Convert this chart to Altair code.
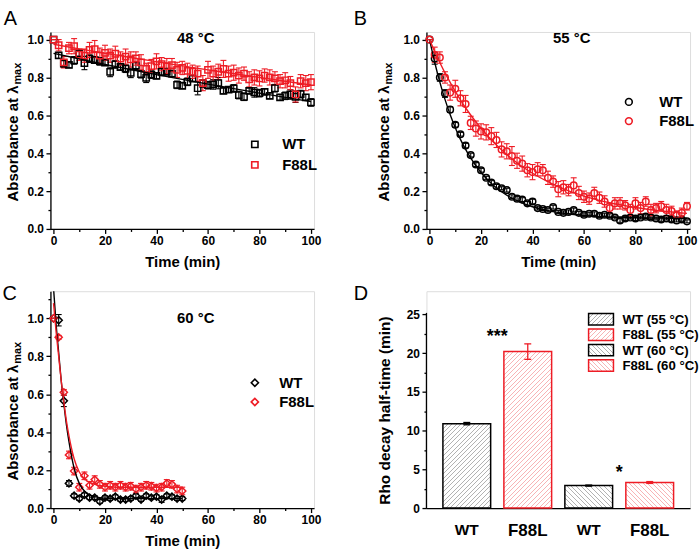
import altair as alt
import pandas as pd

FONT = "Liberation Sans"
BLACK = "#000000"
RED = "#ee1c25"

# ---------------- data ----------------
SERIES = ["WT", "F88L"]
TIME_AB = list(range(0, 101, 2))
TIME_C = list(range(0, 51, 2))

# 48 °C
A_WT = [1.000, 0.916, 0.873, 0.866, 0.890, 0.927, 0.876, 0.899, 0.892, 0.885,
        0.878, 0.829, 0.869, 0.855, 0.846, 0.824, 0.862, 0.817, 0.798, 0.815,
        0.808, 0.829, 0.830, 0.820, 0.761, 0.756, 0.777, 0.794, 0.743, 0.768,
        0.759, 0.763, 0.770, 0.729, 0.736, 0.742, 0.707, 0.698, 0.729, 0.721,
        0.717, 0.724, 0.703, 0.743, 0.695, 0.703, 0.710, 0.698, 0.712, 0.695,
        0.668]
A_WT_ERR = [0.0, 0.015, 0.02, 0.015, 0.02, 0.015, 0.035, 0.02, 0.015, 0.02,
            0.015, 0.025, 0.02, 0.015, 0.02, 0.025, 0.02, 0.02, 0.025, 0.02,
            0.015, 0.02, 0.015, 0.015, 0.02, 0.015, 0.02, 0.015, 0.035, 0.02,
            0.02, 0.025, 0.03, 0.015, 0.015, 0.02, 0.02, 0.02, 0.015, 0.025,
            0.02, 0.015, 0.015, 0.02, 0.015, 0.02, 0.025, 0.03, 0.02, 0.015,
            0.02]
A_F88L = [1.000, 0.970, 0.880, 0.955, 0.965, 0.920, 0.915, 0.945, 0.950, 0.915,
          0.930, 0.915, 0.925, 0.900, 0.910, 0.895, 0.900, 0.880, 0.845, 0.860,
          0.885, 0.870, 0.860, 0.865, 0.840, 0.850, 0.835, 0.830, 0.820, 0.770,
          0.840, 0.820, 0.830, 0.845, 0.820, 0.825, 0.810, 0.820, 0.790, 0.800,
          0.795, 0.810, 0.800, 0.795, 0.780, 0.785, 0.770, 0.710, 0.780, 0.770,
          0.775]
A_F88L_ERR = [0.0, 0.03, 0.03, 0.03, 0.04, 0.03, 0.035, 0.04, 0.045, 0.04,
              0.04, 0.035, 0.04, 0.035, 0.04, 0.04, 0.035, 0.04, 0.03, 0.035,
              0.04, 0.035, 0.04, 0.035, 0.04, 0.035, 0.04, 0.035, 0.04, 0.04,
              0.045, 0.04, 0.04, 0.045, 0.04, 0.04, 0.04, 0.035, 0.04, 0.04,
              0.04, 0.035, 0.04, 0.035, 0.035, 0.04, 0.035, 0.04, 0.035, 0.04,
              0.04]
A_FIT_T = [0, 10, 20, 30, 40, 50, 60, 70, 80, 90, 100]
A_FIT_WT = [0.927, 0.898, 0.869, 0.842, 0.815, 0.790, 0.765, 0.741, 0.717, 0.695, 0.672]
A_FIT_F88L = [0.975, 0.951, 0.928, 0.905, 0.883, 0.861, 0.840, 0.820, 0.800, 0.780, 0.760]

# 55 °C
B_WT = [1.000, 0.900, 0.800, 0.715, 0.630, 0.550, 0.500, 0.440, 0.390, 0.340,
        0.310, 0.270, 0.245, 0.225, 0.215, 0.205, 0.170, 0.160, 0.155, 0.135,
        0.145, 0.110, 0.105, 0.100, 0.115, 0.090, 0.085, 0.090, 0.100, 0.085,
        0.075, 0.080, 0.080, 0.070, 0.075, 0.070, 0.060, 0.045, 0.055, 0.060,
        0.055, 0.060, 0.065, 0.060, 0.055, 0.050, 0.055, 0.050, 0.045, 0.050,
        0.040]
B_WT_ERR = [0.0, 0.03, 0.02, 0.02, 0.015, 0.012, 0.01, 0.012, 0.01, 0.01,
            0.01, 0.008, 0.01, 0.01, 0.008, 0.01, 0.01, 0.012, 0.01, 0.01,
            0.012, 0.01, 0.008, 0.01, 0.01, 0.008, 0.01, 0.01, 0.01, 0.008,
            0.01, 0.008, 0.01, 0.01, 0.008, 0.01, 0.008, 0.01, 0.01, 0.008,
            0.01, 0.008, 0.01, 0.01, 0.008, 0.01, 0.008, 0.01, 0.008, 0.01,
            0.008]
B_F88L = [1.000, 0.920, 0.905, 0.800, 0.720, 0.740, 0.690, 0.660, 0.560, 0.530,
          0.515, 0.510, 0.490, 0.470, 0.420, 0.410, 0.385, 0.360, 0.345, 0.310,
          0.300, 0.315, 0.310, 0.270, 0.250, 0.210, 0.220, 0.205, 0.230, 0.190,
          0.170, 0.160, 0.190, 0.165, 0.145, 0.110, 0.135, 0.135, 0.125, 0.100,
          0.135, 0.110, 0.145, 0.100, 0.110, 0.120, 0.100, 0.095, 0.075, 0.085,
          0.120]
B_F88L_ERR = [0.0, 0.04, 0.03, 0.03, 0.04, 0.045, 0.04, 0.045, 0.035, 0.04,
              0.04, 0.04, 0.045, 0.04, 0.04, 0.04, 0.05, 0.04, 0.04, 0.035,
              0.04, 0.035, 0.03, 0.035, 0.03, 0.04, 0.035, 0.03, 0.04, 0.035,
              0.03, 0.03, 0.03, 0.03, 0.03, 0.025, 0.03, 0.03, 0.025, 0.03,
              0.03, 0.03, 0.025, 0.03, 0.025, 0.025, 0.03, 0.025, 0.02, 0.025,
              0.02]
B_FIT_T = [0, 2, 4, 6, 8, 10, 12, 15, 20, 25, 30, 35, 40, 50, 60, 70, 80, 90, 100]
B_FIT_WT = [1.0, 0.880, 0.775, 0.684, 0.604, 0.534, 0.473, 0.396, 0.298, 0.228,
            0.178, 0.143, 0.117, 0.087, 0.071, 0.063, 0.059, 0.057, 0.056]
B_FIT_F88L = [1.0, 0.937, 0.879, 0.824, 0.774, 0.726, 0.682, 0.620, 0.532, 0.456,
              0.393, 0.339, 0.294, 0.224, 0.173, 0.138, 0.113, 0.095, 0.082]

# 60 °C
C_WT = [1.0, 0.99, 0.565, 0.13, 0.065, 0.05, 0.07, 0.055, 0.055, 0.035,
        0.055, 0.05, 0.06, 0.045, 0.045, 0.05, 0.065, 0.045, 0.065, 0.055,
        0.06, 0.045, 0.065, 0.06, 0.05, 0.05]
C_WT_ERR = [0.0, 0.03, 0.03, 0.015, 0.01, 0.01, 0.01, 0.01, 0.01, 0.01,
            0.01, 0.01, 0.01, 0.01, 0.01, 0.01, 0.01, 0.01, 0.01, 0.01,
            0.01, 0.015, 0.01, 0.01, 0.01, 0.01]
C_F88L = [1.0, 0.90, 0.61, 0.28, 0.195, 0.11, 0.17, 0.12, 0.15, 0.125,
          0.11, 0.12, 0.11, 0.12, 0.11, 0.115, 0.10, 0.11, 0.12, 0.115,
          0.105, 0.11, 0.13, 0.125, 0.10, 0.09]
C_F88L_ERR = [0.0, 0.01, 0.015, 0.02, 0.02, 0.02, 0.02, 0.02, 0.02, 0.02,
              0.02, 0.02, 0.02, 0.02, 0.02, 0.02, 0.02, 0.02, 0.02, 0.02,
              0.02, 0.02, 0.02, 0.02, 0.02, 0.02]
C_FIT_T = [0, 1, 2, 3, 4, 5, 6, 8, 10, 12, 14, 16, 20, 25, 30, 40, 50]
C_FIT_WT = [1.16, 0.97, 0.82, 0.67, 0.55, 0.44, 0.35, 0.21, 0.13, 0.09,
            0.07, 0.06, 0.052, 0.05, 0.05, 0.05, 0.05]
C_FIT_F88L = [1.08, 0.93, 0.80, 0.67, 0.56, 0.46, 0.38, 0.26, 0.19, 0.155,
              0.135, 0.125, 0.115, 0.11, 0.11, 0.11, 0.11]

# half-times
D_GROUPS = ["WT (55 °C)", "F88L (55 °C)", "WT (60 °C)", "F88L (60 °C)"]
D_HALF_TIME = [10.9, 20.2, 2.9, 3.3]
D_ERR = [0.15, 1.0, 0.07, 0.12]
D_STAR_GROUP = ["F88L (55 °C)", "F88L (60 °C)"]
D_STAR_LABEL = ["***", "*"]
D_STAR_Y = [21.4, 3.9]

# ---------------- layout ----------------
PANEL_W = 265
TOP_H = 198
BOT_H = 218
X_DOMAIN = [-1.2, 101.2]
D_YMAX = 28.0
D_PAD_IN = 0.217
D_PAD_OUT = 0.27

SERIES_COLOR = {"WT": BLACK, "F88L": RED}

AXIS_STYLE = dict(
    grid=False, domainColor=BLACK, domainWidth=1.3, tickColor=BLACK, tickWidth=1.3,
    labelFont=FONT, labelFontSize=12, labelFontWeight="bold", labelColor=BLACK,
    titleFont=FONT, titleFontSize=15, titleFontWeight="bold", titleColor=BLACK,
    labelOverlap=False, labelFlush=False,
)


def time_axis():
    return alt.Axis(
        values=list(range(0, 101, 10)),
        labelExpr="datum.value % 20 == 0 ? datum.label : ''",
        tickSize={"condition": {"test": "datum.value % 20 != 0", "value": 2.5}, "value": 4.5},
        labelPadding=2, title="Time (min)", titlePadding=8, **AXIS_STYLE,
    )


def absorb_axis(top):
    vals = [round(i * 0.1, 1) for i in range(int(round(top * 10)) + 1)]
    return alt.Axis(
        values=vals, format=".1f",
        labelExpr="round(datum.value * 10) % 2 == 0 ? datum.label : ''",
        tickSize={"condition": {"test": "round(datum.value * 10) % 2 == 1", "value": 2.5}, "value": 4.5},
        labelPadding=2.5, title=None, **AXIS_STYLE,
    )


def text_layer(text, x, y, size, weight="bold", angle=0, align="center"):
    return alt.Chart(pd.DataFrame({"s": [text]})).mark_text(
        font=FONT, fontSize=size, fontWeight=weight, angle=angle, align=align,
        baseline="alphabetic", color=BLACK,
    ).encode(x=alt.value(x), y=alt.value(y), text="s:N")


def points_frame(time, wt, wt_err, mut, mut_err):
    rows = []
    for name, vals, errs in (("WT", wt, wt_err), ("F88L", mut, mut_err)):
        for t, v, e in zip(time, vals, errs):
            rows.append({"t": t, "v": v, "lo": v - e, "hi": v + e, "series": name})
    return pd.DataFrame(rows)


def fit_frame(time, wt, mut):
    rows = []
    for name, vals in (("WT", wt), ("F88L", mut)):
        for t, v in zip(time, vals):
            rows.append({"t": t, "v": v, "series": name})
    return pd.DataFrame(rows)


def decay_panel(pts, fits, *, shape, size, height, ymax, axis_top, temp, temp_y,
                letter, letter_x, letter_y, ytitle_x, legend):
    xs = alt.Scale(domain=X_DOMAIN, nice=False, zero=False)
    ys = alt.Scale(domain=[0, ymax], nice=False, zero=False)
    xa = time_axis()
    ya = absorb_axis(axis_top)
    x = alt.X("t:Q", scale=xs, axis=xa)

    layers = []
    # error bars, one fixed colour per series
    for name in SERIES:
        col = SERIES_COLOR[name]
        sub = pts[pts["series"] == name]
        layers.append(alt.Chart(sub).mark_rule(strokeWidth=1.1, color=col).encode(
            x=x, y=alt.Y("lo:Q", scale=ys, axis=ya), y2="hi:Q"))
        for end in ("lo", "hi"):
            layers.append(alt.Chart(sub).mark_tick(
                orient="horizontal", size=6, thickness=1.1, opacity=1, color=col
            ).encode(x=x, y=alt.Y(f"{end}:Q", scale=ys, axis=ya)))
    layers.append(alt.Chart(pts).mark_point(
        shape=shape, filled=False, size=size, strokeWidth=1.5, opacity=1
    ).encode(
        x=x, y=alt.Y("v:Q", scale=ys, axis=ya),
        color=alt.Color("series:N", scale=alt.Scale(domain=SERIES, range=[BLACK, RED]),
                        legend=alt.Legend(
                            orient="none", title=None, padding=0, symbolType=shape,
                            symbolStrokeWidth=1.6, labelFont=FONT, labelFontSize=15,
                            labelFontWeight="bold", labelColor=BLACK, **legend)),
    ))
    # fitted curves
    for name in SERIES:
        sub = fits[fits["series"] == name]
        layers.append(alt.Chart(sub).mark_line(
            strokeWidth=1.4, interpolate="monotone", clip=True, color=SERIES_COLOR[name]
        ).encode(x=x, y=alt.Y("v:Q", scale=ys, axis=ya)))

    ybase = height - 27.6
    layers += [
        text_layer(temp, 146, temp_y, 15),
        text_layer(letter, letter_x, letter_y, 20, weight="normal", align="left"),
        text_layer("Absorbance at λ", ytitle_x, ybase, 15, angle=270, align="left"),
        text_layer("max", ytitle_x + 3.2, ybase - 117.5, 11, angle=270, align="left"),
    ]
    return alt.layer(*layers).properties(width=PANEL_W, height=height)


def hatch(w, h, line_color, slope, period=4.6, frac=0.22):
    """Diagonal hatching as a hard-stop linear gradient over a w x h box."""
    n = max(1, round((w + h) / period))
    lam = (w + h) / (w * w + h * h)
    stops = []
    for k in range(n):
        a, b, c = k / n, (k + frac) / n, (k + 1) / n
        stops += [
            alt.GradientStop(color=line_color, offset=a),
            alt.GradientStop(color=line_color, offset=b),
            alt.GradientStop(color="white", offset=b),
            alt.GradientStop(color="white", offset=min(c, 1.0)),
        ]
    if slope == "/":
        return alt.LinearGradient(gradient="linear", stops=stops, x1=0, y1=0, x2=lam * w, y2=lam * h)
    return alt.LinearGradient(gradient="linear", stops=stops, x1=0, y1=1, x2=lam * w, y2=1 - lam * h)


panel_a = decay_panel(
    points_frame(TIME_AB, A_WT, A_WT_ERR, A_F88L, A_F88L_ERR),
    fit_frame(A_FIT_T, A_FIT_WT, A_FIT_F88L),
    shape="square", size=40, height=TOP_H, ymax=1.04, axis_top=1.0,
    temp="48 °C", temp_y=11, letter="A", letter_x=-47, letter_y=-7, ytitle_x=-32.6,
    legend=dict(legendX=198, legendY=105.5, symbolSize=40, labelOffset=20, rowPadding=4.6),
)
panel_b = decay_panel(
    points_frame(TIME_AB, B_WT, B_WT_ERR, B_F88L, B_F88L_ERR),
    fit_frame(B_FIT_T, B_FIT_WT, B_FIT_F88L),
    shape="circle", size=44, height=TOP_H, ymax=1.04, axis_top=1.0,
    temp="55 °C", temp_y=11, letter="B", letter_x=-73, letter_y=-7, ytitle_x=-38,
    legend=dict(legendX=196, legendY=62.8, symbolSize=46, labelOffset=23, rowPadding=3.3),
)
panel_c = decay_panel(
    points_frame(TIME_C, C_WT, C_WT_ERR, C_F88L, C_F88L_ERR),
    fit_frame(C_FIT_T, C_FIT_WT, C_FIT_F88L),
    shape="diamond", size=52, height=BOT_H, ymax=1.143, axis_top=1.1,
    temp="60 °C", temp_y=32.4, letter="C", letter_x=-48.3, letter_y=8.4, ytitle_x=-33,
    legend=dict(legendX=198, legendY=84.5, symbolSize=52, labelOffset=17, rowPadding=3.3),
)

# ---- half-time bars ----
df_d = pd.DataFrame({"group": D_GROUPS, "half": D_HALF_TIME, "err": D_ERR})
df_d["lo"] = df_d["half"] - df_d["err"]
df_d["hi"] = df_d["half"] + df_d["err"]
df_stars = pd.DataFrame({"group": D_STAR_GROUP, "label": D_STAR_LABEL, "y": D_STAR_Y})

d_colors = [BLACK, RED, BLACK, RED]
d_hatch = ["#b2b2b2", "#f7b4b6", "#b2b2b2", "#f7b4b6"]
d_slope = ["/", "/", "\\", "\\"]
step = PANEL_W / (len(D_GROUPS) - D_PAD_IN + 2 * D_PAD_OUT)
bar_w = step * (1 - D_PAD_IN)
px_per_unit = BOT_H / D_YMAX

xs_d = alt.Scale(domain=D_GROUPS, paddingInner=D_PAD_IN, paddingOuter=D_PAD_OUT)
ys_d = alt.Scale(domain=[0, D_YMAX], nice=False, zero=False)
xa_d = alt.Axis(
    title=None, ticks=False, labelAngle=0, labelPadding=15,
    labelExpr="split(datum.value, ' ')[0]",
    labelFontSize={"condition": {"test": "indexof(datum.value, 'F88L') == 0", "value": 17}, "value": 15.5},
    grid=False, domainColor=BLACK, domainWidth=1.3, labelFont=FONT,
    labelFontWeight="bold", labelColor=BLACK,
)
ya_d = alt.Axis(
    values=[i * 2.5 for i in range(11)], domain=False,
    labelExpr="datum.value % 5 == 0 ? datum.label : ''",
    tickSize={"condition": {"test": "datum.value % 5 != 0", "value": 2.5}, "value": 4.5},
    labelPadding=2.5, title=None, grid=False, tickColor=BLACK, tickWidth=1.3,
    labelFont=FONT, labelFontSize=12, labelFontWeight="bold", labelColor=BLACK,
    labelOverlap=False, labelFlush=False,
)
x_d = alt.X("group:N", scale=xs_d, axis=xa_d, sort=D_GROUPS)

d_layers = []
for i in range(len(D_GROUPS)):
    row = df_d.iloc[[i]]
    d_layers.append(
        alt.Chart(row).mark_bar(
            fill=hatch(bar_w, D_HALF_TIME[i] * px_per_unit, d_hatch[i], d_slope[i]),
            stroke=d_colors[i], strokeWidth=1.5,
        ).encode(x=x_d, y=alt.Y("half:Q", scale=ys_d, axis=ya_d))
    )
    d_layers.append(
        alt.Chart(row).mark_rule(strokeWidth=1.3, color=d_colors[i]).encode(
            x=x_d, y=alt.Y("lo:Q", scale=ys_d, axis=ya_d), y2="hi:Q")
    )
    for end in ("lo", "hi"):
        d_layers.append(
            alt.Chart(row).mark_tick(
                orient="horizontal", size=7, thickness=1.3, opacity=1, color=d_colors[i]
            ).encode(x=x_d, y=alt.Y(f"{end}:Q", scale=ys_d, axis=ya_d))
        )
d_layers.append(
    alt.Chart(df_stars).mark_text(
        font=FONT, fontSize=18, fontWeight="bold", color=BLACK, dx=-step / 2, baseline="alphabetic"
    ).encode(x=x_d, y=alt.Y("y:Q", scale=ys_d, axis=ya_d), text="label:N")
)
# left axis line, only up to the top of the value range
d_layers.append(
    alt.Chart(pd.DataFrame({"k": [0]})).mark_rule(color=BLACK, strokeWidth=1.3).encode(
        x=alt.value(0), y=alt.YDatum(0, scale=ys_d, axis=ya_d), y2=alt.Y2Datum(25.2)
    )
)
# hatched legend
for i, name in enumerate(D_GROUPS):
    top = 22.5 + 15.5 * i
    d_layers.append(
        alt.Chart(pd.DataFrame({"k": [0]})).mark_rect(
            fill=hatch(25, 11.5, d_hatch[i], d_slope[i]), stroke=d_colors[i], strokeWidth=1.5
        ).encode(x=alt.value(163), x2=alt.value(188), y=alt.value(top), y2=alt.value(top + 11.5))
    )
    d_layers.append(text_layer(name, 197, 32.8 + 15.5 * i, 13.3, align="left"))
d_layers.append(text_layer("D", -73, 8.4, 20, weight="normal", align="left"))
d_layers.append(text_layer("Rho decay half-time (min)", -37, 120, 15.5, angle=270))

panel_d = alt.layer(*d_layers).properties(width=PANEL_W, height=BOT_H)

chart = alt.concat(
    panel_a, panel_b, panel_c, panel_d,
    columns=2, spacing={"row": 62.6, "column": 113}, bounds="flush",
    padding={"left": 1.7, "top": 6.7, "right": 0, "bottom": 0},
).resolve_scale(color="independent").resolve_legend(color="independent").configure_view(
    stroke=None
).configure(background="white")

chart.save("out.html", embed_options={"renderer": "svg", "actions": False})
